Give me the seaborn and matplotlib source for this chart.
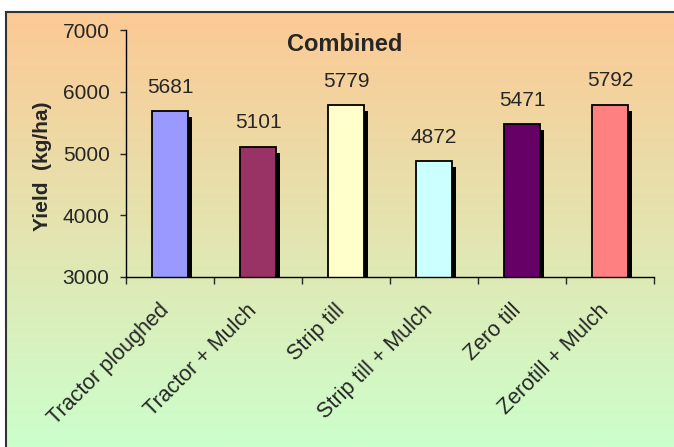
import numpy as np
import matplotlib
matplotlib.use('Agg')
import matplotlib.pyplot as plt
import matplotlib.patheffects as pe
from matplotlib.transforms import ScaledTranslation
import seaborn as sns

# data
treatments = ['Tractor ploughed', 'Tractor + Mulch', 'Strip till',
              'Strip till + Mulch', 'Zero till', 'Zerotill + Mulch']
yields = [5681, 5101, 5779, 4872, 5471, 5792]
bar_colors = ['#9999FF', '#993366', '#FFFFCC', '#CCFFFF', '#660066', '#FF8080']
y_ticks = [3000, 4000, 5000, 6000, 7000]

sns.set_style('white')
plt.rcParams['font.family'] = ['Liberation Sans', 'DejaVu Sans']

W, H = 674, 447
fig = plt.figure(figsize=(W / 100, H / 100), dpi=100)
fig.patch.set_facecolor('white')

# gradient chart area (peach -> light green), with a dark frame on top/left
bg = fig.add_axes([6 / W, 0, 1 - 6 / W, 1 - 12 / H])
top = np.array(matplotlib.colors.to_rgb('#FCC994'))
bottom = np.array(matplotlib.colors.to_rgb('#CCFFCC'))
t = np.linspace(0, 1, 256)[:, None]
grad = (1 - t) * top + t * bottom
bg.imshow(grad[:, None, :], aspect='auto', extent=[0, 1, 0, 1])
bg.set_xticks([])
bg.set_yticks([])
for side in ['right', 'bottom']:
    bg.spines[side].set_visible(False)
for side in ['left', 'top']:
    bg.spines[side].set_color('#333333')
    bg.spines[side].set_linewidth(1.5)

# plot area
left, right = 126 / W, 654 / W
y_top, y_bot = 1 - 30 / H, 1 - 277 / H
ax = fig.add_axes([left, y_bot, right - left, y_top - y_bot])
ax.set_facecolor('none')

sns.barplot(
    x=treatments,
    y=yields,
    hue=treatments,
    palette=bar_colors,
    legend=False,
    width=0.41,
    edgecolor='black',
    linewidth=1.3,
    saturation=1,
    ax=ax
)

for bar in ax.patches:
    bar.set_path_effects([
        pe.SimplePatchShadow(offset=(3.2, -4.3), shadow_rgbFace='black', alpha=1),
        pe.Normal()
    ])

for i, v in enumerate(yields):
    ax.annotate(str(v), (i, v), xytext=(0, 17.5), textcoords='offset points',
                ha='center', va='center', fontsize=15)

ax.set_ylim(3000, 7000)
ax.set_xlim(-0.5, len(treatments) - 0.5)
ax.set_yticks(y_ticks)
ax.tick_params(axis='y', direction='out', length=4.3, width=1, labelsize=15,
               left=True, pad=7.5)
ax.set_xticks(np.arange(-0.5, len(treatments), 1), minor=True)
ax.tick_params(axis='x', which='minor', direction='out', length=5, width=1,
               bottom=True)
ax.tick_params(axis='x', which='major', length=0, pad=22)
ax.set_xticks(range(len(treatments)))
ax.set_xticklabels(treatments, rotation=45, ha='right', va='center',
                   rotation_mode='anchor', fontsize=15.5)
shift = ScaledTranslation(-4 / 100, 0, fig.dpi_scale_trans)
for lab in ax.get_xticklabels():
    lab.set_transform(lab.get_transform() + shift)

for side in ['top', 'right']:
    ax.spines[side].set_visible(False)
for side in ['left', 'bottom']:
    ax.spines[side].set_color('black')
    ax.spines[side].set_linewidth(1)

ax.set_ylabel('Yield  (kg/ha)', fontsize=15, fontweight='bold')
ax.yaxis.set_label_coords(-74 / 528, 0.45)
ax.set_xlabel('')

ax.text(0.415, 0.943, 'Combined', transform=ax.transAxes,
        ha='center', va='center', fontsize=17, fontweight='bold')

fig.savefig('out.png', dpi=100)
